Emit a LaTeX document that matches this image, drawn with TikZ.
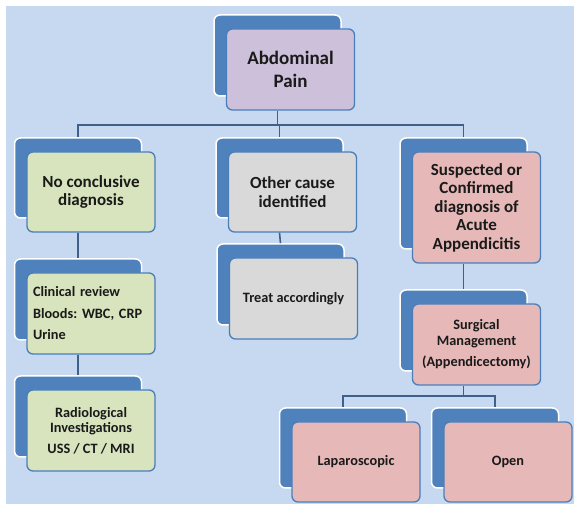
\documentclass[tikz,border=0pt]{standalone}
\usepackage{fontspec}
\setmainfont{Carlito}
\definecolor{bgblue}{HTML}{C6D9F0}
\definecolor{backblue}{HTML}{4F81BD}
\definecolor{edgeblue}{HTML}{4A7EBB}
\definecolor{linecol}{HTML}{3F6189}
\definecolor{lilac}{HTML}{CCC0DA}
\definecolor{lgreen}{HTML}{D7E4BD}
\definecolor{lgrey}{HTML}{D9D9D9}
\definecolor{lpink}{HTML}{E6B9B8}
\definecolor{txt}{HTML}{1A1A1A}
\newcommand\pairbox[7][]{%
  \node[backbox, minimum height=#5] (#2b) at (#3-13,#4-14) {};
  \node[frontbox, fill=#6, minimum height=#5, #1] (#2) at (#3,#4) {#7};}
\begin{document}
\begin{tikzpicture}[x=1pt,y=-1pt,
  backbox/.style={rectangle, rounded corners=6pt, fill=backblue, draw=white, line width=1.5pt, minimum width=127pt, inner sep=0pt},
  frontbox/.style={rectangle, rounded corners=6pt, draw=edgeblue, line width=1.3pt, minimum width=128pt, inner sep=0pt, align=center, text=txt, font=\bfseries\frenchspacing\fontsize{14.3}{15.5}\selectfont},
  topfont/.style={font=\bfseries\fontsize{19}{22.5}\selectfont},
  midfont/.style={font=\bfseries\fontsize{17}{18.5}\selectfont},
  conn/.style={draw=linecol, line width=1.6pt}]
\useasboundingbox (0,0) rectangle (574,505);
\fill[white] (0,0) rectangle (574,505);
\fill[bgblue] (6,6) rectangle (574,504);

\pairbox[topfont]{top}{290.5}{69.5}{81pt}{lilac}{Abdominal\\Pain}
\pairbox[midfont]{la}{91}{192}{80pt}{lgreen}{No conclusive\\diagnosis}
\pairbox[midfont]{ma}{292.5}{192}{80pt}{lgrey}{Other cause\\identified}
\pairbox[midfont]{ra}{476.5}{207.5}{111pt}{lpink}{Suspected or\\Confirmed\\diagnosis of\\Acute\\Appendicitis}
\pairbox[align=left, text width=116pt]{lb}{91}{313.5}{81pt}{lgreen}{Clinical review\\[6pt]Bloods: WBC, CRP\\[6pt]Urine}
\pairbox{mb}{293.5}{298.5}{81pt}{lgrey}{Treat accordingly}
\pairbox{rb}{476.5}{344.5}{81pt}{lpink}{Surgical\\Management\\[6pt](Appendicectomy)}
\pairbox{lc}{91}{430.5}{81pt}{lgreen}{Radiological\\Investigations\\[5pt]USS / CT / MRI}
\pairbox{lap}{356}{462}{80pt}{lpink}{Laparoscopic}
\pairbox{open}{508}{462}{80pt}{lpink}{Open}

\coordinate (j1) at (277,125);
\coordinate (j2) at (462,396);
\draw[conn] (topb.south |- top.south) -- (topb.south |- j1);
\draw[conn] (lab.north) -- (lab.north |- j1) -- (rab.north |- j1) -- (rab.north);
\draw[conn] (mab.north |- j1) -- (mab.north);
\draw[conn] (lab.south |- la.south) -- (lbb.north);
\draw[conn] (mab.south |- ma.south) -- (mbb.north);
\draw[conn] (rab.south |- ra.south) -- (rbb.north);
\draw[conn] (lbb.south |- lb.south) -- (lcb.north);
\draw[conn] (rbb.south |- rb.south) -- (rbb.south |- j2);
\draw[conn] (lapb.north) -- (lapb.north |- j2) -- (openb.north |- j2) -- (openb.north);
\end{tikzpicture}
\end{document}
